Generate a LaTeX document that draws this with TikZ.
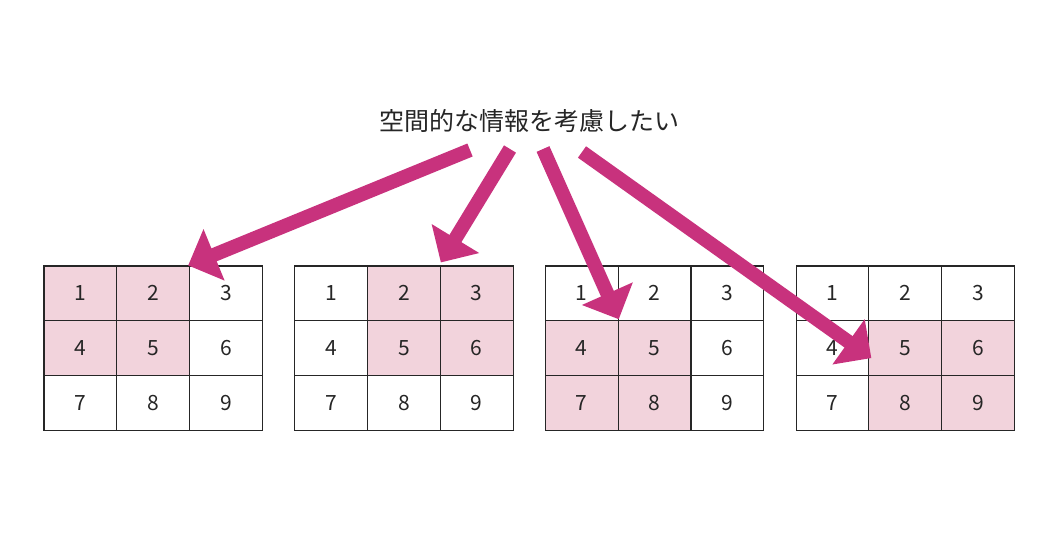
\documentclass[tikz,border=0pt]{standalone}
\usepackage{fontspec}
\newfontfamily\cjk{Noto Sans CJK JP}
\usetikzlibrary{arrows.meta}
\definecolor{mag}{HTML}{C8327D}
\definecolor{pinkfill}{HTML}{F2D3DC}
\begin{document}
\begin{tikzpicture}[x=1pt,y=-1pt,
  cell/.style={draw=black!85,line width=1.1pt,minimum width=72.8pt,minimum height=54.7pt,inner sep=0pt,font=\cjk\fontsize{21}{21}\selectfont,text=black!85},
  hl/.style={fill=pinkfill},
  bigarrow/.style={draw=mag,line width=14pt,-{Triangle[length=28pt,width=54pt]}}]
\useasboundingbox (0,0) rectangle (1050,538);
\node[font=\cjk\fontsize{25}{25}\selectfont,text=black!85] (title) at (529,121) {空間的な情報を考慮したい};
\foreach \g/\hls in {1/{1,2,4,5},2/{2,3,5,6},3/{4,5,7,8},4/{5,6,8,9}}{
  \foreach \n in {1,...,9}{
    \pgfmathtruncatemacro\col{mod(\n-1,3)}
    \pgfmathtruncatemacro\row{div(\n-1,3)}
    \def\sty{}
    \foreach \h in \hls {\ifnum\h=\n \xdef\sty{hl}\fi}
    \node[cell,\sty] (g\g-\n) at ({44+250.7*(\g-1)+72.8*\col+36.4},{266+54.7*\row+27.35}) {\n};
    \gdef\sty{}
  }
}
\coordinate (s1) at (470,150);
\coordinate (s2) at (510,149);
\coordinate (s3) at (543,149);
\coordinate (s4) at (582,152);
\draw[bigarrow] (s1) -- ([xshift=-2pt]g1-2.north east);
\draw[bigarrow] (s2) -- ([yshift=3pt]g2-2.north east);
\draw[bigarrow] (s3) -- ([yshift=2pt]g3-1.south east);
\draw[bigarrow] (s4) -- ([xshift=3pt,yshift=-10pt]g4-5.west);
\end{tikzpicture}
\end{document}
